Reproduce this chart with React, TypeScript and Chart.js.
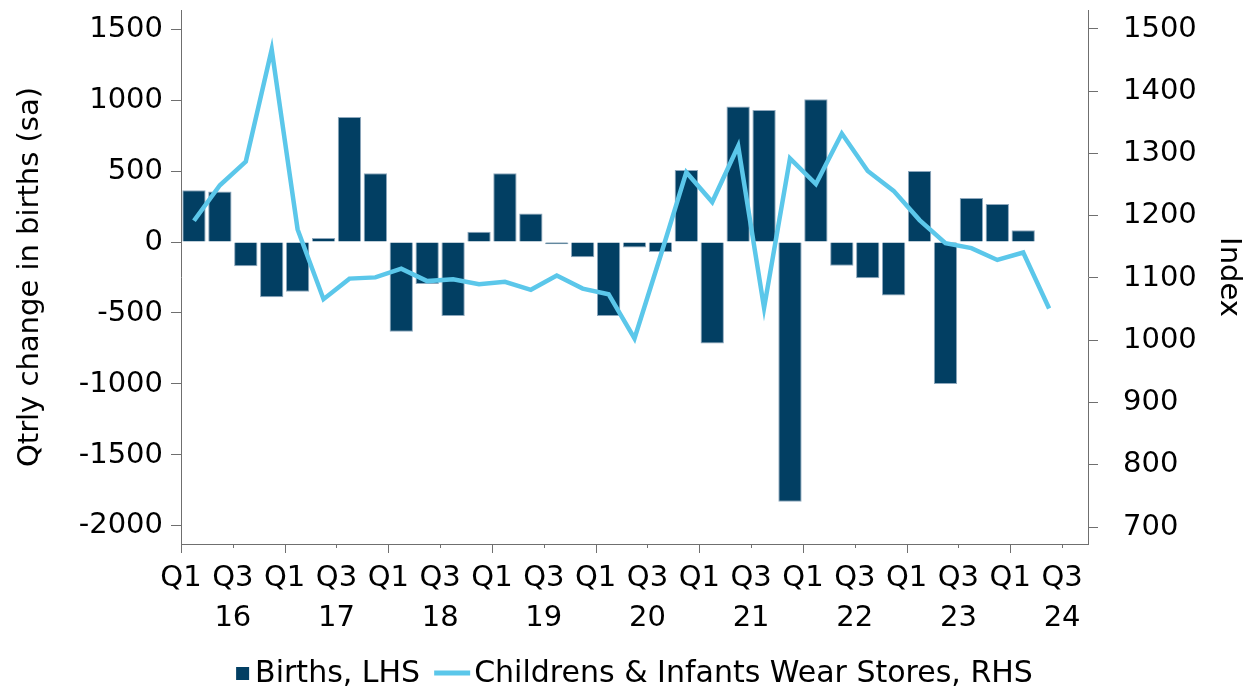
import React, { useEffect, useRef } from "react";
import { Chart, registerables } from "chart.js";

Chart.register(...registerables);

// ---- Data ----
const YEARS = ["16", "17", "18", "19", "20", "21", "22", "23", "24"];
const QUARTER_NAMES = ["Q1", "Q2", "Q3", "Q4"];
// 35 quarterly slots: 2016 Q1 .. 2024 Q3
const QUARTERS = YEARS.flatMap((y) => QUARTER_NAMES.map((q) => `${q} ${y}`)).slice(0, 35);

// Quarterly change in births (sa), 2016 Q1 .. 2024 Q1
const BIRTHS = [
  365, 355, -171, -390,
  -350, 28, 880, 484,
  -632, -296, -521, 73,
  484, 200, -16, -108,
  -521, -38, -70, 507,
  -714, 955, 930, -1829,
  1005, -167, -256, -376,
  500, -1000, 310, 268,
  82,
];

// Childrens & Infants Wear Stores index, 2016 Q1 .. 2024 Q2
const STORE_INDEX = [
  1192, 1249, 1287, 1467,
  1178, 1066, 1099, 1101,
  1115, 1095, 1098, 1090,
  1094, 1081, 1104, 1083,
  1074, 1003, 1135, 1270,
  1222, 1312, 1052, 1292,
  1251, 1332, 1272, 1240,
  1193, 1156, 1148, 1129,
  1141, 1051,
];

const LEFT_TICKS = [-2000, -1500, -1000, -500, 0, 500, 1000, 1500];
const RIGHT_TICKS = [700, 800, 900, 1000, 1100, 1200, 1300, 1400, 1500];
const X_TICKS = QUARTERS.map((_, i) => i).filter((i) => i % 2 === 0);

const LEGEND_LABELS = ["Births, LHS", "Childrens & Infants Wear Stores, RHS"];
const LEFT_TITLE = "Qtrly change in births (sa)";
const RIGHT_TITLE = "Index";

// ---- Styles ----
const FONT = "'DejaVu Sans', Verdana, sans-serif";
const BAR_COLOR = "#023f63";
const BAR_EDGE = "#8ea8bd";
const LINE_COLOR = "#5bc7ea";
const AXIS_COLOR = "#6f6f6f";

const xTickPlugin = {
  id: "xTickMarks",
  afterDraw(chart: any) {
    const scale = chart.scales.x;
    const ctx = chart.ctx;
    const y0 = chart.chartArea.bottom;
    ctx.save();
    ctx.strokeStyle = AXIS_COLOR;
    ctx.lineWidth = 1;
    scale.ticks.forEach((t: any) => {
      const px = Math.round(scale.getPixelForValue(t.value)) + 0.5;
      const len = t.value % 4 === 0 ? 9 : 4;
      ctx.beginPath();
      ctx.moveTo(px, y0);
      ctx.lineTo(px, y0 + len);
      ctx.stroke();
    });
    ctx.restore();
  },
};

const legendPlugin = {
  id: "customLegend",
  afterDraw(chart: any) {
    const ctx = chart.ctx;
    ctx.save();
    ctx.font = `30px ${FONT}`;
    ctx.textBaseline = "middle";
    ctx.textAlign = "left";
    const w1 = ctx.measureText(LEGEND_LABELS[0]).width;
    const w2 = ctx.measureText(LEGEND_LABELS[1]).width;
    const box = 13;
    const gap1 = 6;
    const gapItems = 14;
    const lineLen = 36;
    const gap2 = 4;
    const total = box + gap1 + w1 + gapItems + lineLen + gap2 + w2;
    const cx = (chart.chartArea.left + chart.chartArea.right) / 2;
    let x = cx - total / 2;
    const y = 674;
    ctx.fillStyle = BAR_COLOR;
    ctx.fillRect(x, y - 7, box, box);
    x += box + gap1;
    ctx.fillStyle = "#000";
    ctx.fillText(LEGEND_LABELS[0], x, y);
    x += w1 + gapItems;
    ctx.strokeStyle = LINE_COLOR;
    ctx.lineWidth = 5;
    ctx.beginPath();
    ctx.moveTo(x, y - 1);
    ctx.lineTo(x + lineLen, y - 1);
    ctx.stroke();
    x += lineLen + gap2;
    ctx.fillText(LEGEND_LABELS[1], x, y);
    ctx.restore();
  },
};

export default function App() {
  const canvasRef = useRef<HTMLCanvasElement | null>(null);

  useEffect(() => {
    document.body.style.margin = "0";
    const canvas = canvasRef.current;
    if (!canvas) return;

    const tickFont = { family: FONT, size: 29 };

    const chart = new Chart(canvas, {
      type: "bar",
      data: {
        datasets: [
          {
            type: "line",
            label: LEGEND_LABELS[1],
            data: STORE_INDEX.map((v, i) => ({ x: i + 0.5, y: v })),
            borderColor: LINE_COLOR,
            backgroundColor: LINE_COLOR,
            borderWidth: 4.5,
            pointRadius: 0,
            tension: 0,
            yAxisID: "y1",
            xAxisID: "x",
            order: 0,
          } as any,
          {
            type: "bar",
            label: LEGEND_LABELS[0],
            data: BIRTHS.map((v, i) => ({ x: i + 0.5, y: v })),
            backgroundColor: BAR_COLOR,
            borderColor: BAR_EDGE,
            borderWidth: 1,
            barPercentage: 0.9,
            categoryPercentage: 1,
            yAxisID: "y",
            xAxisID: "x",
            order: 1,
          } as any,
        ],
      },
      options: {
        animation: false,
        responsive: true,
        maintainAspectRatio: false,
        devicePixelRatio: 1,
        layout: { padding: { top: 10, left: 0, right: 0, bottom: 0 } },
        plugins: {
          legend: { display: false },
          tooltip: { enabled: false },
        },
        scales: {
          x: {
            type: "linear",
            min: 0,
            max: QUARTERS.length,
            offset: false,
            afterBuildTicks: (axis: any) => {
              axis.ticks = X_TICKS.map((v) => ({ value: v }));
            },
            afterFit: (axis: any) => {
              axis.height = 145;
              axis.paddingLeft = 0;
              axis.paddingRight = 0;
            },
            grid: { display: false, drawTicks: false },
            border: { display: true, color: AXIS_COLOR, width: 1 },
            ticks: {
              autoSkip: false,
              maxRotation: 0,
              minRotation: 0,
              padding: 14,
              color: "#000",
              font: { family: FONT, size: 29, lineHeight: 40 / 29 },
              callback: (value: any) => {
                const i = Math.round(Number(value));
                const q = QUARTERS[i].split(" ");
                return q[0] === "Q3" ? [q[0], q[1]] : [q[0], ""];
              },
            },
          },
          y: {
            type: "linear",
            position: "left",
            min: -2127,
            max: 1634,
            afterBuildTicks: (axis: any) => {
              axis.ticks = LEFT_TICKS.map((v) => ({ value: v }));
            },
            afterFit: (axis: any) => {
              axis.width = 181;
              axis.paddingTop = 0;
              axis.paddingBottom = 0;
            },
            grid: { drawOnChartArea: false, tickLength: 10, color: AXIS_COLOR },
            border: { display: true, color: AXIS_COLOR, width: 1 },
            ticks: {
              color: "#000",
              padding: 8,
              font: tickFont,
              callback: (v: any) => String(v),
            },
            title: {
              display: true,
              text: LEFT_TITLE,
              color: "#000",
              font: { family: FONT, size: 29 },
              padding: { top: 13, bottom: 0 },
            },
          },
          y1: {
            type: "linear",
            position: "right",
            min: 672.7,
            max: 1530.5,
            afterBuildTicks: (axis: any) => {
              axis.ticks = RIGHT_TICKS.map((v) => ({ value: v }));
            },
            afterFit: (axis: any) => {
              axis.width = 164;
              axis.paddingTop = 0;
              axis.paddingBottom = 0;
            },
            grid: { drawOnChartArea: false, tickLength: 10, color: AXIS_COLOR },
            border: { display: true, color: AXIS_COLOR, width: 1 },
            ticks: {
              color: "#000",
              padding: 25,
              font: tickFont,
              callback: (v: any) => String(v),
            },
            title: {
              display: true,
              text: RIGHT_TITLE,
              color: "#000",
              font: { family: FONT, size: 29 },
              padding: { top: 6, bottom: 0 },
            },
          },
        },
      } as any,
      plugins: [xTickPlugin, legendPlugin],
    });

    return () => {
      chart.destroy();
    };
  }, []);

  return (
    <div style={{ position: "relative", width: "1252px", height: "689px" }}>
      <canvas ref={canvasRef} />
    </div>
  );
}
